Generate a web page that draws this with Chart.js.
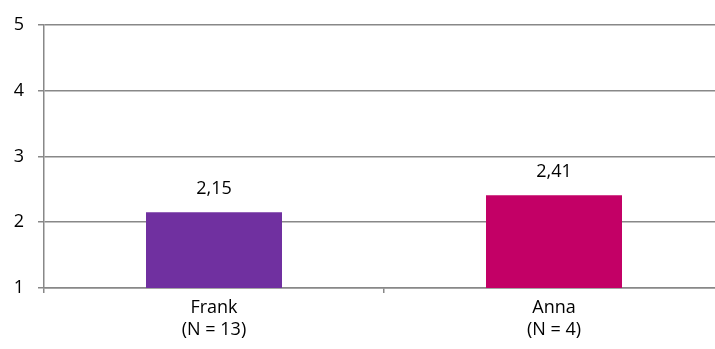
<!DOCTYPE html>
<html>
<head>
<meta charset="utf-8">
<script src="https://cdn.jsdelivr.net/npm/chart.js@4"></script>
<style>
html,body{margin:0;padding:0;background:#fff;overflow:hidden;}
#wrap{width:715px;height:349px;overflow:hidden;}
</style>
</head>
<body>
<div id="wrap"><canvas id="chart" width="724" height="349"></canvas></div>
<script>
const names = ["Frank", "Anna"];
const counts = ["(N = 13)", "(N = 4)"];
const means = [2.15, 2.41];
const barColors = ["#7030A0", "#C30066"];
const yTicks = [1, 2, 3, 4, 5];

const gridGray = "#888888";
const font = {family: "'Open Sans', sans-serif", size: 18};

// value above each bar, written with a decimal comma
const valueLabels = {
  id: "valueLabels",
  afterDatasetsDraw(chart) {
    const ctx = chart.ctx;
    const meta = chart.getDatasetMeta(0);
    ctx.save();
    ctx.font = font.size + "px " + font.family;
    ctx.fillStyle = "#000";
    ctx.textAlign = "center";
    ctx.textBaseline = "alphabetic";
    meta.data.forEach((bar, i) => {
      ctx.fillText(means[i].toFixed(2).replace(".", ","), bar.x, bar.y - 18);
    });
    ctx.restore();
  }
};

new Chart(document.getElementById("chart"), {
  type: "bar",
  data: {
    labels: names.map((n, i) => [n, counts[i]]),
    datasets: [{
      data: means,
      backgroundColor: barColors,
      barPercentage: 0.4,
      categoryPercentage: 1
    }]
  },
  options: {
    responsive: false,
    animation: false,
    layout: {padding: {top: 22, right: 0, bottom: 0, left: 0}},
    plugins: {legend: {display: false}, tooltip: {enabled: false}},
    scales: {
      x: {
        grid: {display: true, drawOnChartArea: false, offset: true, tickLength: 5, color: gridGray, lineWidth: 1.5},
        border: {color: gridGray, width: 1.5},
        ticks: {color: "#000", font: {...font, lineHeight: 1.2}, padding: 4, maxRotation: 0},
        afterFit(scale) { scale.height = 61; }
      },
      y: {
        min: yTicks[0],
        max: yTicks[yTicks.length - 1],
        afterBuildTicks(scale) { scale.ticks = yTicks.map(v => ({value: v})); },
        grid: {color: gridGray, lineWidth: 1.5, tickLength: 6},
        border: {color: gridGray, width: 1.5},
        ticks: {color: "#000", font: font, padding: 14},
        afterFit(scale) { scale.width = 44; }
      }
    }
  },
  plugins: [valueLabels]
});
</script>
</body>
</html>
